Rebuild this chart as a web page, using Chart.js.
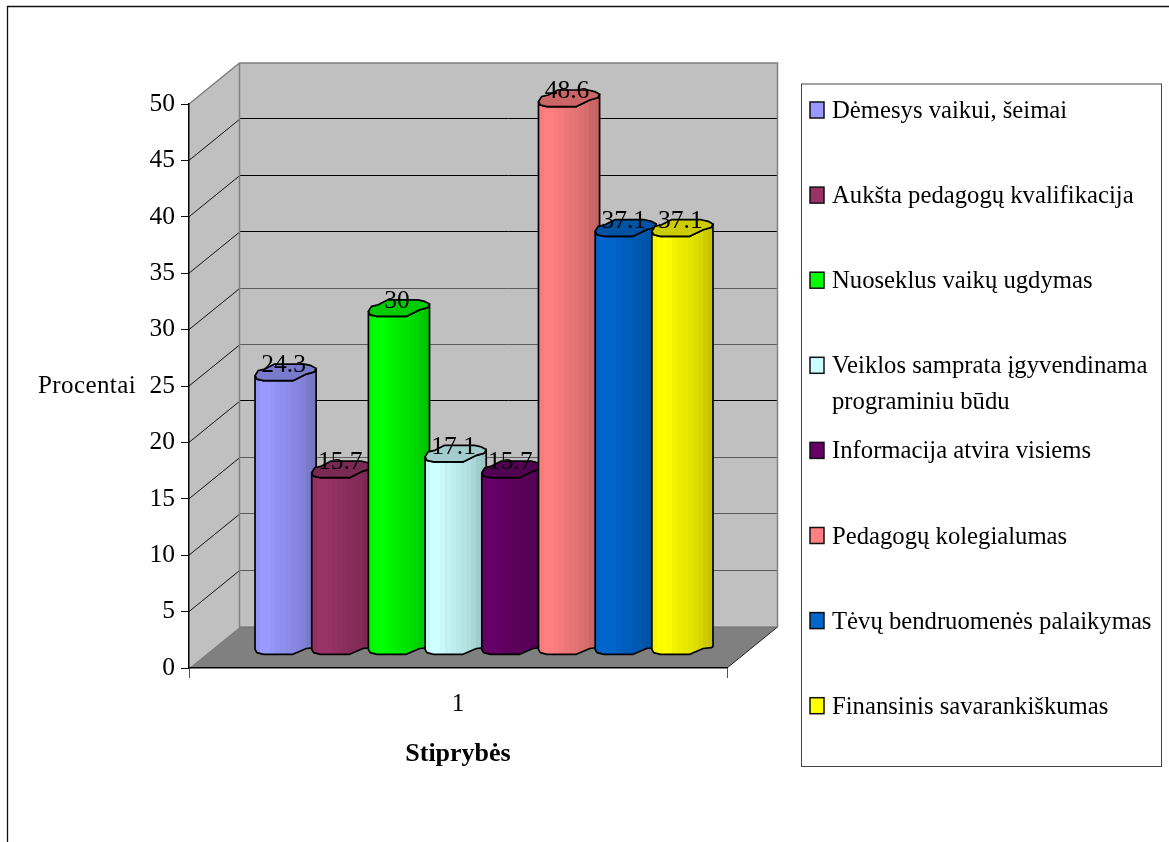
<!DOCTYPE html>
<html lang="lt">
<head>
<meta charset="utf-8">
<title>Stiprybės</title>
<style>
  html, body { margin: 0; padding: 0; background: #fff; overflow: hidden; }
  canvas { display: block; }
</style>
<script src="https://cdn.jsdelivr.net/npm/chart.js@4/dist/chart.umd.js"></script>
</head>
<body>
<canvas id="chart" width="1169" height="842"></canvas>
<script>
const categories = ['1'];
const seriesNames = [
  'Dėmesys vaikui, šeimai',
  'Aukšta pedagogų kvalifikacija',
  'Nuoseklus vaikų ugdymas',
  'Veiklos samprata įgyvendinama\nprograminiu būdu',
  'Informacija atvira visiems',
  'Pedagogų kolegialumas',
  'Tėvų bendruomenės palaikymas',
  'Finansinis savarankiškumas'
];
const seriesValues = [24.3, 15.7, 30, 17.1, 15.7, 48.6, 37.1, 37.1];
const seriesColors = ['#9999ff', '#993366', '#00ff00', '#ccffff', '#660066', '#ff8080', '#0066cc', '#ffff00'];
const yTickStep = 5;
const yMax = 50;

const FONT = '"Liberation Serif", "Times New Roman", serif';

// Depth of the 3D box, and the offset of the bars' plane inside it.
const BOX_DX = 50.5, BOX_DY = -41;
const GRID_DY = -42;
const BAR_DX = 26, BAR_DY = -21.5;

// Outline of a faceted column cap, as (fraction of width, pixels from centre).
const CAP_BACK = [[0, 3.3], [0.05, -1.7], [0.16, -3.3], [0.32, -8.3], [0.81, -8.3], [0.92, -6.7], [1, -4]];
const CAP_FRONT = [[1, -4], [0.97, -0.5], [0.84, 1.7], [0.62, 8.3], [0.14, 8.3], [0.03, 6.7], [0, 3.3]];
const FOOT = [[1, 0.5], [0.97, 1.7], [0.84, 2.5], [0.62, 8.3], [0.14, 8.3], [0.03, 6.7], [0, 3.3]];
const FACET_SHADES = [0.97, 1, 1, 0.98, 0.95, 0.93, 0.91, 0.89, 0.87, 0.84, 0.8, 0.77];
const CAP_SHADE = 0.8;

function shade(hex, f) {
  const n = parseInt(hex.slice(1), 16);
  const c = s => Math.round(((n >> s) & 255) * f);
  return `rgb(${c(16)},${c(8)},${c(0)})`;
}

function polygon(ctx, pts) {
  ctx.beginPath();
  pts.forEach((p, i) => (i ? ctx.lineTo(p[0], p[1]) : ctx.moveTo(p[0], p[1])));
  ctx.closePath();
}

function drawColumn(ctx, bar, color) {
  const left = bar.x + BAR_DX - bar.width / 2;
  const w = bar.width;
  const top = bar.y + BAR_DY;
  const foot = bar.base + BAR_DY;
  const at = (arc, cy) => arc.map(p => [left + p[0] * w, cy + p[1]]);

  // Side of the column: capped by the front edge of the top, closed by the foot.
  const body = [...at(CAP_FRONT, top).reverse(), ...at(FOOT, foot)];
  const grad = ctx.createLinearGradient(left, 0, left + w, 0);
  FACET_SHADES.forEach((f, i) => {
    const col = shade(color, f);
    grad.addColorStop(i / FACET_SHADES.length, col);
    grad.addColorStop((i + 1) / FACET_SHADES.length, col);
  });
  ctx.lineWidth = 1.7;
  ctx.strokeStyle = '#000';
  ctx.lineJoin = 'round';
  polygon(ctx, body);
  ctx.fillStyle = grad;
  ctx.fill();
  ctx.stroke();

  polygon(ctx, [...at(CAP_BACK, top), ...at(CAP_FRONT, top).slice(1)]);
  ctx.fillStyle = shade(color, CAP_SHADE);
  ctx.fill();
  ctx.stroke();
}

const boxPlugin = {
  id: 'box3d',
  beforeDraw(chart) {
    const { ctx, chartArea: a, scales: { y } } = chart;
    const L = a.left, R = a.right, T = a.top, B = a.bottom;
    ctx.save();
    ctx.fillStyle = '#fff';
    ctx.fillRect(0, 0, chart.width, chart.height);

    // Outer chart frame, running off the right and bottom of the page.
    ctx.strokeStyle = '#111';
    ctx.lineWidth = 1.3;
    ctx.beginPath();
    ctx.moveTo(7.5, chart.height);
    ctx.lineTo(7.5, 6.5);
    ctx.lineTo(chart.width, 6.5);
    ctx.stroke();

    // Walls and floor of the box.
    ctx.fillStyle = '#c0c0c0';
    polygon(ctx, [[L, T], [L + BOX_DX, T + BOX_DY], [L + BOX_DX, B + BOX_DY], [L, B]]);
    ctx.fill();
    polygon(ctx, [[L + BOX_DX, T + BOX_DY], [R + BOX_DX, T + BOX_DY], [R + BOX_DX, B + BOX_DY], [L + BOX_DX, B + BOX_DY]]);
    ctx.fill();
    ctx.fillStyle = '#808080';
    polygon(ctx, [[L, B], [L + BOX_DX, B + BOX_DY], [R + BOX_DX, B + BOX_DY], [R, B]]);
    ctx.fill();

    // Gridlines across the side wall and along the back wall.
    const softLines = [30, 25, 15, 10, 5];
    for (let v = yTickStep; v < yMax; v += yTickStep) {
      const py = y.getPixelForValue(v);
      const by = Math.round(py + GRID_DY) + 0.5;
      ctx.lineWidth = 1;
      ctx.strokeStyle = softLines.includes(v) ? '#5c5c5c' : '#000';
      ctx.beginPath();
      ctx.moveTo(L + BOX_DX, by);
      ctx.lineTo(R + BOX_DX, by);
      ctx.stroke();
      ctx.strokeStyle = '#111';
      ctx.beginPath();
      ctx.moveTo(L, py);
      ctx.lineTo(L + BOX_DX, py + BOX_DY);
      ctx.stroke();
    }

    // Box edges.
    ctx.strokeStyle = '#808080';
    ctx.lineWidth = 1.5;
    ctx.beginPath();
    ctx.moveTo(L, T);
    ctx.lineTo(L + BOX_DX, T + BOX_DY);
    ctx.lineTo(R + BOX_DX, T + BOX_DY);
    ctx.lineTo(R + BOX_DX, B + BOX_DY);
    ctx.moveTo(L + BOX_DX, T + BOX_DY);
    ctx.lineTo(L + BOX_DX, B + BOX_DY);
    ctx.stroke();
    ctx.strokeStyle = '#6a6a6a';
    ctx.lineWidth = 1;
    ctx.beginPath();
    ctx.moveTo(L + BOX_DX, B + BOX_DY);
    ctx.lineTo(R + BOX_DX, B + BOX_DY);
    ctx.stroke();
    ctx.strokeStyle = '#222';
    ctx.beginPath();
    ctx.moveTo(R, B);
    ctx.lineTo(R + BOX_DX, B + BOX_DY);
    ctx.stroke();
    ctx.restore();
  },
  beforeDatasetsDraw(chart) {
    const { ctx } = chart;
    ctx.save();
    // Columns paint left to right so each one overlaps its left neighbour.
    chart.data.datasets.forEach((ds, i) => {
      drawColumn(ctx, chart.getDatasetMeta(i).data[0], ds.backgroundColor);
    });
    // Value labels sit on top of every column.
    ctx.fillStyle = '#000';
    ctx.font = `25.5px ${FONT}`;
    ctx.textAlign = 'center';
    ctx.textBaseline = 'alphabetic';
    chart.data.datasets.forEach((ds, i) => {
      const bar = chart.getDatasetMeta(i).data[0];
      ctx.fillText(String(ds.data[0]), bar.x + BAR_DX - 2, bar.y + BAR_DY);
    });
    ctx.restore();
    return false;
  },
  afterDraw(chart) {
    const { ctx } = chart;
    ctx.save();
    ctx.fillStyle = '#000';
    ctx.textBaseline = 'alphabetic';

    // The value-axis title stays horizontal, left of the tick labels.
    ctx.font = `25px ${FONT}`;
    ctx.textAlign = 'left';
    ctx.letterSpacing = '0.4px';
    ctx.fillText('Procentai', 38, 393);

    // Legend box with one row per series.
    const box = { x: 801.5, y: 84, w: 360, h: 682.5, first: 118, pitch: 85.1 };
    ctx.strokeStyle = '#444';
    ctx.lineWidth = 1;
    ctx.strokeRect(box.x, box.y, box.w, box.h);
    ctx.font = `24.7px ${FONT}`;
    ctx.letterSpacing = '0px';
    chart.data.datasets.forEach((ds, i) => {
      const base = box.first + i * box.pitch;
      ctx.fillStyle = ds.backgroundColor;
      ctx.strokeStyle = '#111';
      ctx.lineWidth = 1.5;
      ctx.fillRect(810, base - 16, 14, 16);
      ctx.strokeRect(810, base - 16, 14, 16);
      ctx.fillStyle = '#000';
      ds.label.split('\n').forEach((line, k) => ctx.fillText(line, 832, base + k * 36));
    });
    ctx.restore();
  }
};

const chart = new Chart(document.getElementById('chart'), {
  type: 'bar',
  data: {
    labels: categories,
    datasets: seriesNames.map((name, i) => ({
      label: name,
      data: [seriesValues[i]],
      backgroundColor: seriesColors[i]
    }))
  },
  options: {
    responsive: false,
    animation: false,
    events: [],
    categoryPercentage: 0.843,
    barPercentage: 1.078,
    layout: { padding: { left: 119, right: 442, top: 104, bottom: 72 } },
    plugins: { legend: { display: false }, tooltip: { enabled: false } },
    scales: {
      x: {
        afterFit: s => { s.height = 102; },
        border: { color: '#000', width: 1.5 },
        grid: { drawOnChartArea: false, tickLength: 10, color: '#555', tickColor: '#555' },
        ticks: { color: '#000', font: { family: FONT, size: 25 }, padding: 11, maxRotation: 0 },
        title: {
          display: true,
          text: 'Stiprybės',
          color: '#000',
          font: { family: FONT, size: 26, weight: 'bold' },
          padding: 0
        }
      },
      y: {
        min: 0,
        max: yMax,
        afterFit: s => { s.width = 70; },
        border: { color: '#000', width: 1.5 },
        grid: { drawOnChartArea: false, tickLength: 8, color: '#111', tickColor: '#111' },
        ticks: { stepSize: yTickStep, color: '#000', font: { family: FONT, size: 25.5 }, padding: 6 }
      }
    }
  },
  plugins: [boxPlugin]
});
</script>
</body>
</html>
